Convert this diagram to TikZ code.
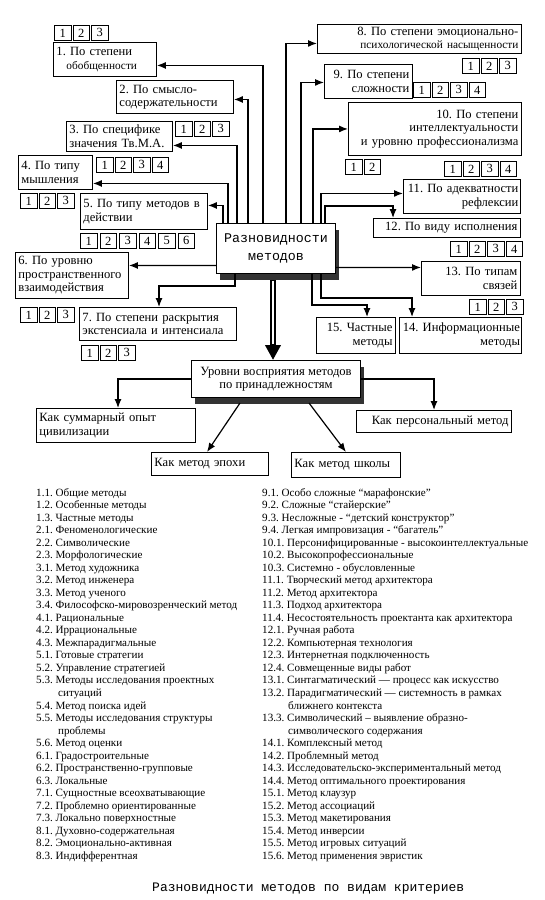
\documentclass[tikz,border=0pt]{standalone}
\usepackage{fontspec}
\setmainfont{Liberation Serif}
\newfontfamily\monofnt{Liberation Mono}
\usetikzlibrary{arrows.meta,shadows}
\newcommand\lfont{\fontsize{12.6}{13.5}\selectfont}
\newcommand\sfnt{\fontsize{11.3}{13}\selectfont}
\tikzset{
  lab/.style={draw, line width=0.9pt, anchor=north west, inner xsep=3pt, inner ysep=1pt, font=\lfont, fill=white},
  nb/.style={draw, line width=0.8pt, anchor=north west, minimum width=16.5pt, minimum height=15pt, inner sep=0pt, font=\fontsize{12.5}{12}\selectfont},
  arr/.style={line width=1.2pt, -{Latex[length=9pt,width=7pt]}},
  lst/.style={anchor=base west, inner sep=0pt, font=\fontsize{11.1}{12}\selectfont},
  shad/.style={drop shadow={shadow xshift=3pt, shadow yshift=-6pt, fill=black!80, opacity=1}}
}
\newcommand\cbox[7]{\pgfmathsetmacro\tw{#4-6}\node[lab, align=#6, text width=\tw pt, minimum height=#5pt] (#1) at (#2,#3) {#7};}
\newcommand\nrow[5]{\foreach \j in {1,...,#4} {\node[nb] (#1-\j) at ({#2+(\j-1)*#5},#3) {\j};}}
\begin{document}
\frenchspacing
\begin{tikzpicture}[x=1pt,y=-1pt]
\fill[white] (0,0) rectangle (545,900);
\useasboundingbox (0,0) rectangle (545,900);

% central node
\node[draw, line width=1pt, fill=white, shad, anchor=north west, minimum width=119pt, minimum height=50pt, align=center, inner sep=0pt, font=\monofnt\fontsize{13.3}{18}\selectfont] (c) at (216,223) {Разновидности\\методов};

% criteria boxes
\cbox{b1}{53}{42}{103}{34}{left}{1. По степени\\\hspace*{10pt}{\sfnt обобщенности}}
\cbox{b2}{116}{80}{117}{33}{left}{2. По смысло-\\содержательности}
\cbox{b3}{66}{121}{106}{30}{left}{3. По специфике\\значения Тв.М.А.}
\cbox{b4}{18}{155}{74}{34}{left}{4. По типу\\мышления}
\cbox{b5}{80}{193}{127}{36}{left}{5. По типу методов в\\действии}
\cbox{b6}{15}{252}{113}{46}{left}{6. По уровню\\пространственного\\взаимодействия}
\cbox{b7}{79}{307}{157}{33}{left}{7. По степени раскрытия\\экстенсиала и интенсиала}
\cbox{b8}{317}{24}{204}{29}{right}{8. По степени эмоционально-\\{\sfnt психологической насыщенности}}
\cbox{b9}{324}{64}{88}{34}{right}{9. По степени\\сложности}
\cbox{b10}{348}{102}{173}{53}{right}{10. По степени\\интеллектуальности\\и уровню профессионализма}
\node[lab, align=right, text width=113pt, inner xsep=2pt, minimum height=34pt] (b11) at (403,179) {11. По адекватности\\рефлексии};
\cbox{b12}{373}{218}{147}{19}{right}{12. По виду исполнения}
\cbox{b13}{421}{261}{99}{34}{right}{13. По типам\\связей}
\node[lab, align=right, text width=119pt, inner xsep=1.5pt, minimum height=36pt] (b14) at (399,317) {14. Информационные\\методы};
\cbox{b15}{316}{317}{79}{36}{right}{15. Частные\\методы}

% number rows
\nrow{r1}{54}{25}{3}{18.5}
\nrow{r3}{175}{121}{3}{18.5}
\nrow{r4}{96}{157}{4}{18.5}
\nrow{r5a}{20}{193}{3}{18.5}
\nrow{r5b}{80}{233}{6}{19.5}
\nrow{r6}{20}{307}{3}{18.5}
\nrow{r7}{81}{345}{3}{18.5}
\nrow{r8}{462}{58}{3}{18.5}
\nrow{r9}{413}{82}{4}{18.5}
\nrow{r10a}{345}{159}{2}{18.5}
\nrow{r10b}{444}{161}{4}{18.5}
\nrow{r12}{450}{241}{4}{18.5}
\nrow{r13}{469}{299}{3}{18.5}

% connectors from central node
\draw[arr] ([xshift=47pt]c.north west) |- ([yshift=-6pt]b1.east);
\draw[arr] ([xshift=32pt]c.north west) |- ([yshift=-2.5pt]b2.east);
\draw[arr] ([xshift=21pt]c.north west) |- ([yshift=-9pt]b3.east);
\draw[arr] ([xshift=12pt]c.north west) |- ([yshift=-11pt]b4.east);
\draw[arr] ([xshift=7pt]c.north west) |- ([yshift=6pt]b5.east);
\draw[arr] ([yshift=-17pt]c.west) -- ([yshift=10pt]b6.east);
\draw[arr] ([xshift=19pt]c.south west) -- ++(0,12) -| ([xshift=80pt]b7.north west);
\draw[arr] ([xshift=70pt]c.north west) |- ([yshift=-4.5pt]b8.west);
\draw[arr] ([xshift=85pt]c.north west) |- ([yshift=-1pt]b9.west);
\draw[arr] ([xshift=97pt]c.north west) |- (b10.west);
\draw[arr] ([xshift=105pt]c.north west) |- ([yshift=3pt]b11.west);
\draw[arr] ([xshift=109pt]c.north west) -- ++(0,-17) -| ([xshift=20pt]b12.north west);
\draw[arr] ([yshift=-19pt]c.east) -- ([yshift=11pt]b13.west);
\draw[arr] ([xshift=96pt]c.south west) -- ++(0,31) -| ([xshift=51pt]b15.north west);
\draw[arr] ([xshift=105pt]c.south west) -- ++(0,24) -| ([xshift=13pt]b14.north west);

% lower part
\node[draw, line width=1pt, fill=white, shad, anchor=north west, minimum width=169pt, minimum height=37pt, align=center, inner sep=0pt, font=\lfont] (u) at (191,360) {Уровни восприятия методов\\по принадлежностям};
\cbox{k1}{36}{408}{159}{34}{left}{Как суммарный опыт\\цивилизации}
\cbox{k2}{151}{452}{117}{23}{left}{Как метод эпохи}
\cbox{k3}{291}{452}{109}{25}{left}{Как метод школы}
\cbox{k4}{356}{410}{155}{22}{right}{Как персональный метод}

\draw[line width=6pt, -{Triangle[length=15pt,width=15pt]}] ([xshift=57pt,yshift=-6pt]c.south west) -- ([xshift=82pt]u.north west);
\draw[white, line width=1.6pt] ([xshift=57pt,yshift=-7pt]c.south west) -- ([xshift=82pt,yshift=16pt]u.north west);

\draw[arr] (u.west) -| ([xshift=82pt]k1.north west);
\draw[arr] (u.east) -| ([xshift=78pt]k4.north west);
\draw[arr] ([xshift=49pt,yshift=-5pt]u.south west) -- ([xshift=56pt]k2.north west);
\draw[arr] ([xshift=118pt,yshift=-5pt]u.south west) -- ([xshift=55pt]k3.north west);

% legend lists
\foreach \t [count=\i from 0] in {
{1.1. Общие методы},
{1.2. Особенные методы},
{1.3. Частные методы},
{2.1. Феноменологические},
{2.2. Символические},
{2.3. Морфологические},
{3.1. Метод художника},
{3.2. Метод инженера},
{3.3. Метод ученого},
{3.4. Философско-мировозренческий метод},
{4.1. Рациональные},
{4.2. Иррациональные},
{4.3. Межпарадигмальные},
{5.1. Готовые стратегии},
{5.2. Управление стратегией},
{5.3. Методы исследования проектных},
{\hspace*{22pt}ситуаций},
{5.4. Метод поиска идей},
{5.5. Методы исследования структуры},
{\hspace*{22pt}проблемы},
{5.6. Метод оценки},
{6.1. Градостроительные},
{6.2. Пространственно-групповые},
{6.3. Локальные},
{7.1. Сущностные всеохватывающие},
{7.2. Проблемно ориентированные},
{7.3. Локально поверхностные},
{8.1. Духовно-содержательная},
{8.2. Эмоционально-активная},
{8.3. Индифферентная}}
{\node[lst] (L\i) at (36,{496+\i*12.53}) {\t};}

\foreach \t [count=\i from 0] in {
{9.1. Особо сложные “марафонские”},
{9.2. Сложные “стайерские”},
{9.3. Несложные - “детский конструктор”},
{9.4. Легкая импровизация - “багатель”},
{10.1. Персонифицированные - высокоинтеллектуальные},
{10.2. Высокопрофессиональные},
{10.3. Системно - обусловленные},
{11.1. Творческий метод архитектора},
{11.2. Метод архитектора},
{11.3. Подход архитектора},
{11.4. Несостоятельность проектанта как архитектора},
{12.1. Ручная работа},
{12.2. Компьютерная технология},
{12.3. Интернетная подключенность},
{12.4. Совмещенные виды работ},
{13.1. Синтагматический — процесс как искусство},
{13.2. Парадигматический — системность в рамках},
{\hspace*{26pt}ближнего контекста},
{13.3. Символический – выявление образно-},
{\hspace*{26pt}символического содержания},
{14.1. Комплексный метод},
{14.2. Проблемный метод},
{14.3. Исследовательско-экспериментальный метод},
{14.4. Метод оптимального проектирования},
{15.1. Метод клаузур},
{15.2. Метод ассоциаций},
{15.3. Метод макетирования},
{15.4. Метод инверсии},
{15.5. Метод игровых ситуаций},
{15.6. Метод применения эвристик}}
{\node[lst] (R\i) at (262,{496+\i*12.53}) {\t};}

\node[anchor=base west, inner sep=0pt, font=\monofnt\fontsize{13}{13}\selectfont] (cap) at (152,891) {Разновидности методов по видам критериев};
\end{tikzpicture}
\end{document}
